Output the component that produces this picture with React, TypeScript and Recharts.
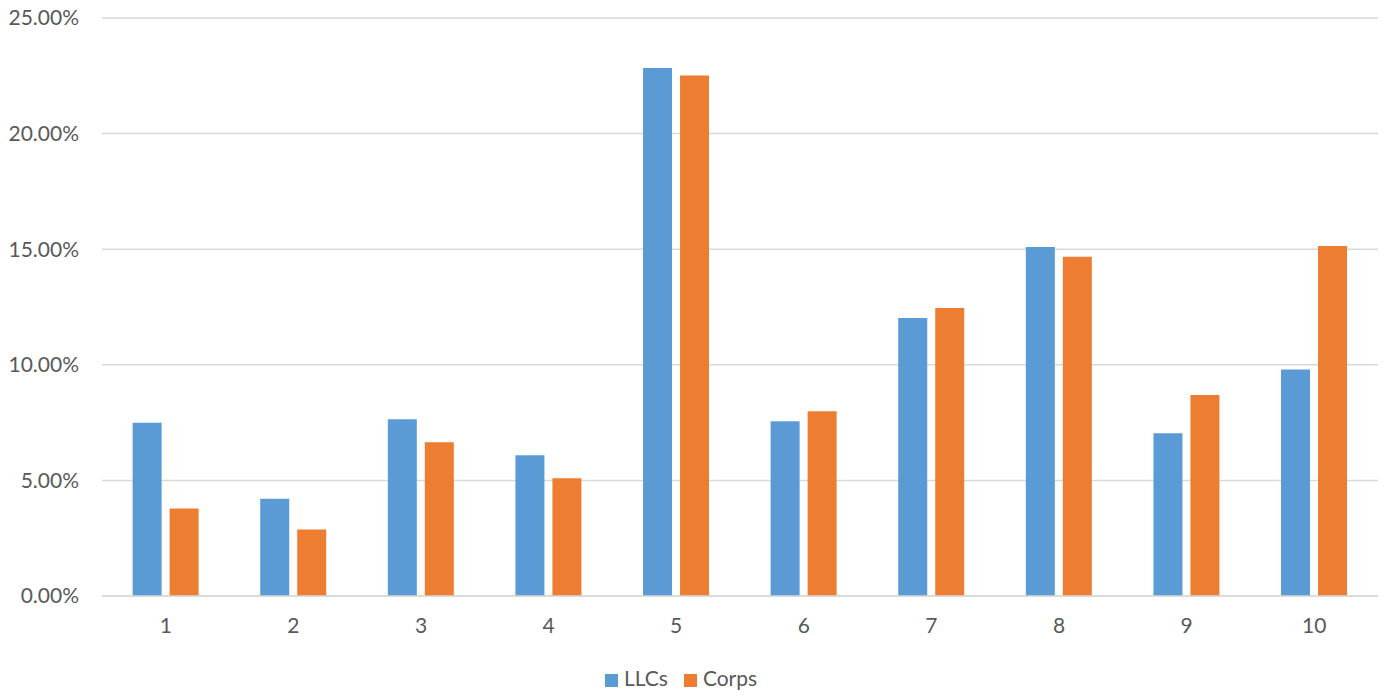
import React from "react";
import { BarChart, Bar, XAxis, YAxis, CartesianGrid, Legend } from "recharts";

const categories = ["1", "2", "3", "4", "5", "6", "7", "8", "9", "10"];
const llcs = [7.49, 4.21, 7.65, 6.09, 22.84, 7.56, 12.02, 15.1, 7.04, 9.8];
const corps = [3.78, 2.88, 6.65, 5.09, 22.51, 7.99, 12.46, 14.67, 8.69, 15.14];
const yTicks = [0, 5, 10, 15, 20, 25];
const seriesOrder = ["LLCs", "Corps"];

const data = categories.map((c, i) => ({ name: c, LLCs: llcs[i], Corps: corps[i] }));

const FONT = "Lato, 'Open Sans', sans-serif";
const TEXT = "#595959";

export default function App() {
  return (
    <div style={{ position: "absolute", left: 0, top: 0, width: 1384, height: 696, background: "#fff", fontFamily: FONT }}>
      <BarChart
        width={1384}
        height={696}
        data={data}
        margin={{ top: 18, right: 6, left: 0, bottom: 0 }}
        barCategoryGap="24%"
        barGap={8}
      >
        <CartesianGrid vertical={false} stroke="#D9D9D9" strokeWidth={1.5} />
        <XAxis
          dataKey="name"
          height={60}
          tickLine={false}
          axisLine={{ stroke: "#D9D9D9", strokeWidth: 1.5 }}
          tickSize={0}
          tickMargin={22}
          tick={{ fill: TEXT, fontSize: 21, fontFamily: FONT }}
        />
        <YAxis
          width={102}
          domain={[0, 25]}
          ticks={yTicks}
          interval={0}
          axisLine={false}
          tickLine={false}
          tickSize={0}
          tickMargin={23}
          tickFormatter={(v: number) => v.toFixed(2) + "%"}
          tick={{ fill: TEXT, fontSize: 21, fontFamily: FONT }}
        />
        <Legend
          verticalAlign="bottom"
          height={40}
          iconType="square"
          iconSize={13}
          itemSorter={(item: any) => seriesOrder.indexOf(String(item.dataKey ?? item.value))}
          wrapperStyle={{ fontFamily: FONT, fontSize: 21, bottom: -9 }}
          formatter={(value: string) => (
            <span style={{ color: TEXT, marginLeft: 2, marginRight: 6 }}>{value}</span>
          )}
        />
        <Bar dataKey="LLCs" fill="#5B9BD5" isAnimationActive={false} />
        <Bar dataKey="Corps" fill="#ED7D31" isAnimationActive={false} />
      </BarChart>
    </div>
  );
}
